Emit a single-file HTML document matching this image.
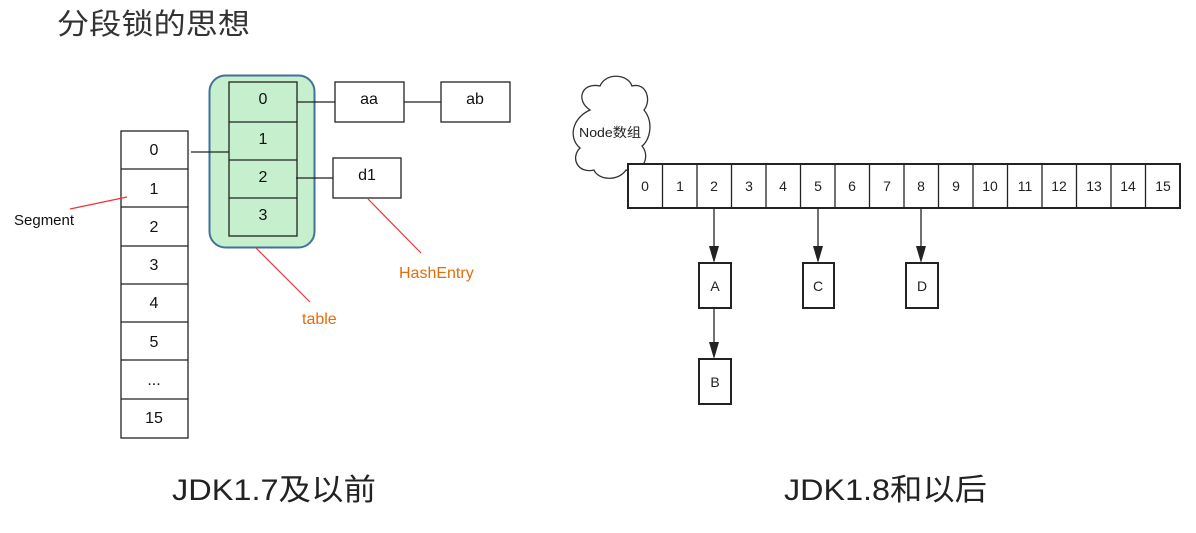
<!DOCTYPE html>
<html><head><meta charset="utf-8"><style>
html,body{margin:0;padding:0;background:#fff;}
svg{display:block;font-family:"Liberation Sans","Noto Sans CJK SC",sans-serif;}
</style></head><body>
<svg width="1196" height="533" viewBox="0 0 1196 533" xmlns="http://www.w3.org/2000/svg">
<text x="57" y="34" font-size="29" fill="#333" textLength="193" lengthAdjust="spacingAndGlyphs">分段锁的思想</text>

<!-- segment column -->
<g fill="#fff" stroke="#222" stroke-width="1.3">
<rect x="121" y="131" width="67" height="307"/>
</g>
<g stroke="#222" stroke-width="1.3">
<line x1="121" y1="169" x2="188" y2="169"/><line x1="121" y1="207" x2="188" y2="207"/>
<line x1="121" y1="246" x2="188" y2="246"/><line x1="121" y1="284" x2="188" y2="284"/>
<line x1="121" y1="322" x2="188" y2="322"/><line x1="121" y1="360" x2="188" y2="360"/>
<line x1="121" y1="399" x2="188" y2="399"/>
</g>
<g font-size="16" text-anchor="middle" fill="#111">
<text x="154" y="155">0</text><text x="154" y="194">1</text><text x="154" y="232">2</text>
<text x="154" y="270">3</text><text x="154" y="308">4</text><text x="154" y="347">5</text>
<text x="154" y="385">...</text><text x="154" y="423">15</text>
</g>

<!-- table -->
<rect x="209.5" y="75.5" width="105" height="172" rx="16" fill="#c6efce" stroke="#41719c" stroke-width="2"/>
<rect x="229" y="82" width="68" height="154" fill="#c6efce" stroke="#222" stroke-width="1.3"/>
<g stroke="#222" stroke-width="1.3">
<line x1="229" y1="122" x2="297" y2="122"/><line x1="229" y1="160" x2="297" y2="160"/><line x1="229" y1="198" x2="297" y2="198"/>
</g>
<g font-size="16" text-anchor="middle" fill="#111">
<text x="263" y="104">0</text><text x="263" y="144">1</text><text x="263" y="182">2</text><text x="263" y="220">3</text>
</g>
<g fill="#fff" stroke="#222" stroke-width="1.3">
<rect x="335" y="82" width="69" height="40"/><rect x="441" y="82" width="69" height="40"/><rect x="333" y="158" width="68" height="40"/>
</g>
<g font-size="16" text-anchor="middle" fill="#111">
<text x="369" y="104">aa</text><text x="475" y="104">ab</text><text x="367" y="180">d1</text>
</g>
<g stroke="#222" stroke-width="1.2">
<line x1="297" y1="102" x2="335" y2="102"/><line x1="404" y1="102" x2="441" y2="102"/>
<line x1="191" y1="152" x2="229" y2="152"/><line x1="296" y1="178" x2="333" y2="178"/>
</g>
<g stroke="#e33" stroke-width="1.2">
<line x1="70" y1="209" x2="127" y2="197"/><line x1="256" y1="248" x2="310" y2="302"/><line x1="368" y1="199" x2="421" y2="253"/>
</g>
<text x="14" y="225" font-size="15" fill="#111">Segment</text>
<text x="302" y="324" font-size="16" fill="#e46c0a">table</text>
<text x="399" y="278" font-size="16" fill="#e46c0a">HashEntry</text>

<!-- right -->
<path d="M590,110 C575,100 582,82 600,86 C606,72 628,74 632,86 C646,82 652,100 644,110 C654,122 650,140 642,146 C652,158 640,176 626,170 C618,182 598,180 594,170 C578,174 570,158 580,148 C568,138 572,118 590,110 Z" fill="#fff" stroke="#333" stroke-width="1.3"/>
<text x="610" y="137" font-size="13" text-anchor="middle" fill="#222" textLength="62" lengthAdjust="spacingAndGlyphs">Node数组</text>
<rect x="628" y="164" width="552" height="44" fill="#fff" stroke="#222" stroke-width="2"/>
<g stroke="#222" stroke-width="1.3" id="cells">
<line x1="662.5" y1="164" x2="662.5" y2="208"/><line x1="697" y1="164" x2="697" y2="208"/>
<line x1="731.5" y1="164" x2="731.5" y2="208"/><line x1="766" y1="164" x2="766" y2="208"/>
<line x1="800.5" y1="164" x2="800.5" y2="208"/><line x1="835" y1="164" x2="835" y2="208"/>
<line x1="869.5" y1="164" x2="869.5" y2="208"/><line x1="904" y1="164" x2="904" y2="208"/>
<line x1="938.5" y1="164" x2="938.5" y2="208"/><line x1="973" y1="164" x2="973" y2="208"/>
<line x1="1007.5" y1="164" x2="1007.5" y2="208"/><line x1="1042" y1="164" x2="1042" y2="208"/>
<line x1="1076.5" y1="164" x2="1076.5" y2="208"/><line x1="1111" y1="164" x2="1111" y2="208"/>
<line x1="1145.5" y1="164" x2="1145.5" y2="208"/>
</g>
<g font-size="14" text-anchor="middle" fill="#222">
<text x="645" y="191">0</text><text x="680" y="191">1</text><text x="714" y="191">2</text><text x="749" y="191">3</text>
<text x="783" y="191">4</text><text x="818" y="191">5</text><text x="852" y="191">6</text><text x="887" y="191">7</text>
<text x="921" y="191">8</text><text x="956" y="191">9</text><text x="990" y="191">10</text><text x="1025" y="191">11</text>
<text x="1059" y="191">12</text><text x="1094" y="191">13</text><text x="1128" y="191">14</text><text x="1163" y="191">15</text>
</g>
<g stroke="#222" stroke-width="1.3">
<line x1="714" y1="208" x2="714" y2="248"/><line x1="818" y1="208" x2="818" y2="248"/>
<line x1="921" y1="208" x2="921" y2="248"/><line x1="714" y1="308" x2="714" y2="344"/>
</g>
<g fill="#222">
<polygon points="709,246 719,246 714,263"/><polygon points="813,246 823,246 818,263"/>
<polygon points="916,246 926,246 921,263"/><polygon points="709,342 719,342 714,359"/>
</g>
<g fill="#fff" stroke="#222" stroke-width="2">
<rect x="699" y="263" width="32" height="45"/><rect x="803" y="263" width="31" height="45"/>
<rect x="906" y="263" width="32" height="45"/><rect x="699" y="359" width="32" height="45"/>
</g>
<g font-size="14" text-anchor="middle" fill="#222">
<text x="715" y="291">A</text><text x="818" y="291">C</text><text x="922" y="291">D</text><text x="715" y="387">B</text>
</g>

<text x="172" y="500" font-size="30" fill="#222" textLength="204" lengthAdjust="spacingAndGlyphs">JDK1.7及以前</text>
<text x="784" y="500" font-size="30" fill="#222" textLength="203" lengthAdjust="spacingAndGlyphs">JDK1.8和以后</text>
</svg>
</body></html>
